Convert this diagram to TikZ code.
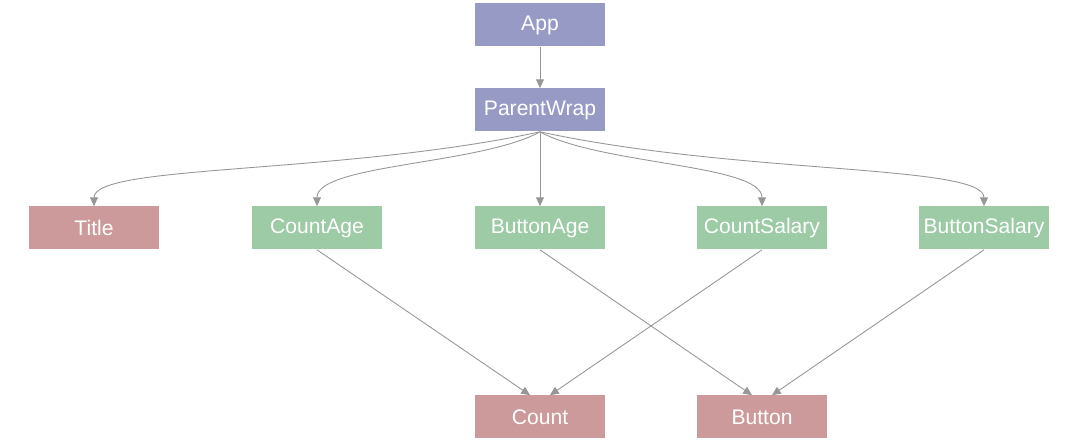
\documentclass[tikz,border=0pt]{standalone}
\usepackage{fontspec}
\setmainfont{Liberation Sans}
\usetikzlibrary{arrows.meta,
	calc,
	positioning}
\definecolor{purplebox}{RGB}{152,154,198}
\definecolor{greenbox}{RGB}{156,203,166}
\definecolor{redbox}{RGB}{204,154,154}
\definecolor{edgegray}{RGB}{150,150,150}
\tikzstyle{comp}=[minimum width=2.6cm, minimum height=0.86cm, inner sep=0,
		text=white, font=\fontsize{12}{14}\selectfont]
\tikzstyle{wrap}=[comp, fill=purplebox]
\tikzstyle{memo}=[comp, fill=greenbox]
\tikzstyle{leaf}=[comp, fill=redbox]
\tikzstyle{dep}=[draw=edgegray, line width=0.5pt,
		-{Triangle[length=5pt, width=4.5pt]}]

\begin{document}
\begin{tikzpicture}[x=0.02cm, y=-0.02cm]
                \useasboundingbox (0,0) rectangle (1083,445);
                % top
                \node[wrap] (app) at (540,25) {App};
                \node[wrap] (parent) at (540,110) {ParentWrap};
                % children
                \node[leaf] (title) at (94,228) {Title};
                \node[memo] (countage) at (317,228) {CountAge};
                \node[memo] (buttonage) at (540,228) {ButtonAge};
                \node[memo] (countsalary) at (762,228) {CountSalary};
                \node[memo] (buttonsalary) at (984,228) {ButtonSalary};
                % shared
                \node[leaf] (count) at (540,417) {Count};
                \node[leaf] (button) at (762,417) {Button};

                \draw[dep] (app) -- (parent);
                \draw[dep] (parent.south) .. controls +(-200,43) and +(0,-42) .. (title.north);
                \draw[dep] (parent.south) .. controls +(-60,33) and +(0,-42) .. (countage.north);
                \draw[dep] (parent.south) -- (buttonage.north);
                \draw[dep] (parent.south) .. controls +(60,33) and +(0,-42) .. (countsalary.north);
                \draw[dep] (parent.south) .. controls +(200,43) and +(0,-42) .. (buttonsalary.north);

                \draw[dep] (countage.south) -- ($(count.north)+(-10,0)$);
                \draw[dep] (countsalary.south) -- ($(count.north)+(10,0)$);
                \draw[dep] (buttonage.south) -- ($(button.north)+(-10,0)$);
                \draw[dep] (buttonsalary.south) -- ($(button.north)+(10,0)$);
            \end{tikzpicture}
\end{document}
